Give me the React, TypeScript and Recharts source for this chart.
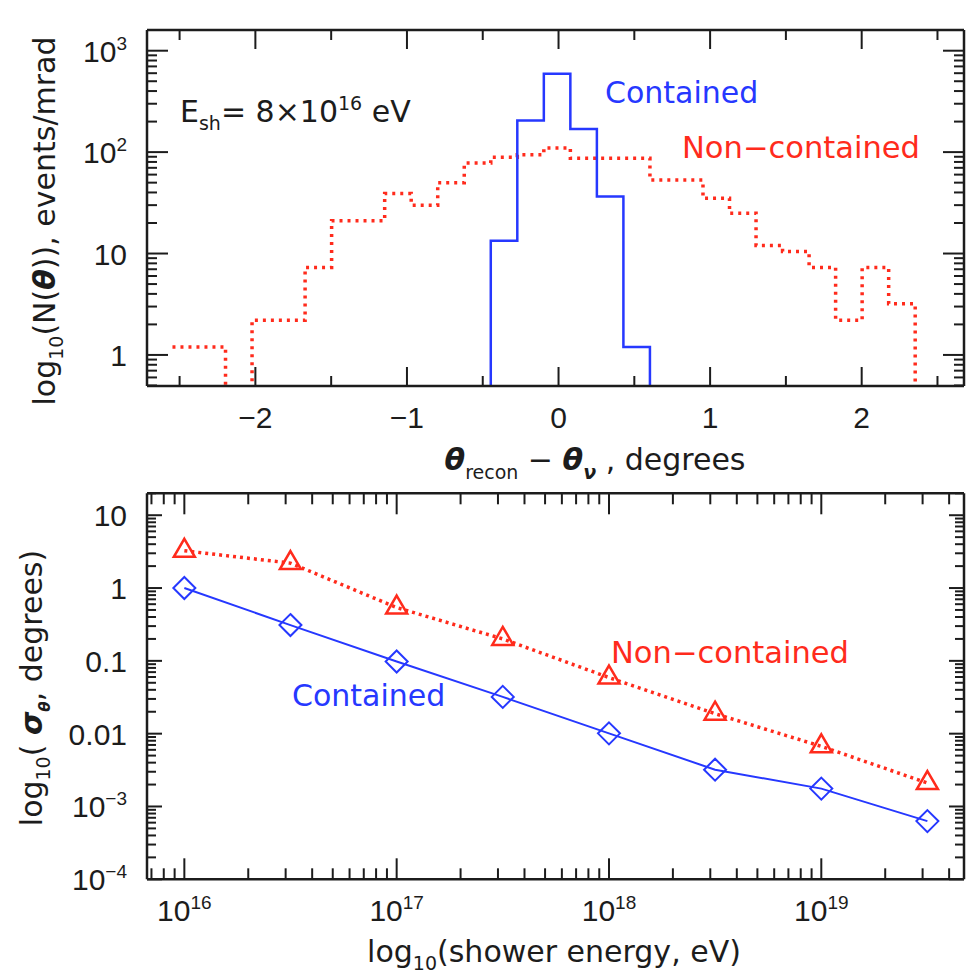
import React from 'react';
import { LineChart, Line, XAxis, YAxis } from 'recharts';

// top panel: angular error histograms, bin edges in degrees, counts in events/mrad
const binEdges = [
  -2.547, -2.372, -2.197, -2.022, -1.847, -1.672, -1.497, -1.322, -1.147, -0.972,
  -0.797, -0.622, -0.447, -0.272, -0.097, 0.078, 0.253, 0.428, 0.603, 0.778,
  0.953, 1.128, 1.303, 1.478, 1.653, 1.828, 2.003, 2.178, 2.353,
];
const nonContainedCounts = [
  1.2, 1.2, 0, 2.2, 2.2, 7.3, 21, 21, 39, 30, 50, 78, 89, 94,
  110, 87, 87, 87, 53, 53, 35, 25, 12, 10.5, 7.3, 2.2, 7.3, 3.2,
];
const containedCounts = [
  0, 0, 0, 0, 0, 0, 0, 0, 0, 0, 0, 0, 13.4, 205,
  594, 169, 36.5, 1.2, 0, 0, 0, 0, 0, 0, 0, 0, 0, 0,
];

// bottom panel: angular resolution vs shower energy
const energies = [1e16, 3.16e16, 1e17, 3.16e17, 1e18, 3.16e18, 1e19, 3.16e19];
const sigmaContained = [1.0, 0.31, 0.098, 0.032, 0.0101, 0.0032, 0.00176, 0.00063];
const sigmaNonContained = [3.25, 2.2, 0.54, 0.2, 0.059, 0.0188, 0.0067, 0.0021];

// ticks
const thetaTicks = [-2.5, -2, -1.5, -1, -0.5, 0, 0.5, 1, 1.5, 2, 2.5];
const thetaMajors = [-2, -1, 0, 1, 2];
const thetaLabels = [['−2', ''], ['−1', ''], ['0', ''], ['1', ''], ['2', '']];
const countMajors = [1, 10, 100, 1000];
const countLabels = [['1', ''], ['10', ''], ['10', '2'], ['10', '3']];
const sigmaMajors = [1e-4, 1e-3, 0.01, 0.1, 1, 10];
const sigmaLabels = [['10', '−4'], ['10', '−3'], ['0.01', ''], ['0.1', ''], ['1', ''], ['10', '']];
const energyMajors = [1e16, 1e17, 1e18, 1e19];
const energyLabels = [['10', '16'], ['10', '17'], ['10', '18'], ['10', '19']];

const THETA_DOMAIN: [number, number] = [-2.715, 2.675];
const COUNT_DOMAIN: [number, number] = [0.494, 1600];
const SIGMA_DOMAIN: [number, number] = [1e-4, 20];
const ENERGY_DOMAIN: [number, number] = [6.67e15, 4.7e19];

const BLUE = '#2638ff';
const RED = '#ff2b1c';
const INK = '#1c1c1c';
const EMPTY = 0.1; // empty bins fall below the axis floor

function outline(counts: number[]) {
  const pts = counts.map((c, i) => ({ x: binEdges[i], y: c > 0 ? c : EMPTY }));
  pts.push({ x: binEdges[counts.length], y: EMPTY });
  return pts;
}

function logTicks(lo: number, hi: number) {
  const out: number[] = [];
  for (let d = Math.floor(Math.log10(lo)); d <= Math.ceil(Math.log10(hi)); d++) {
    for (let m = 1; m <= 9; m++) {
      const v = m * Math.pow(10, d);
      if (v >= lo * 0.9999 && v <= hi * 1.0001) out.push(v);
    }
  }
  return out;
}

const near = (a: number, b: number) => Math.abs(a - b) <= 1e-9 * Math.max(1, Math.abs(b));

type Side = 'left' | 'right' | 'top' | 'bottom';

function makeTick(side: Side, majors: number[], labels: string[][] | null, major: number, minor: number) {
  return (props: any) => {
    const { x, y, payload } = props;
    const idx = majors.findIndex((m) => near(payload.value, m));
    const len = idx >= 0 ? major : minor;
    let x2 = x;
    let y2 = y;
    if (side === 'left') x2 = x + len;
    else if (side === 'right') x2 = x - len;
    else if (side === 'top') y2 = y + len;
    else y2 = y - len;
    const lab = idx >= 0 && labels ? labels[idx] : null;
    let text = null;
    if (lab) {
      const sup = lab[1] ? <tspan dy={-12} fontSize={19}>{lab[1]}</tspan> : null;
      text = side === 'left'
        ? <text x={x - 20} y={y + 11} textAnchor="end" fontSize={30} fontFamily="Liberation Sans" fill={INK}>{lab[0]}{sup}</text>
        : <text x={x} y={y + 42} textAnchor="middle" fontSize={30} fontFamily="Liberation Sans" fill={INK}>{lab[0]}{sup}</text>;
    }
    return (
      <g>
        <line x1={x} y1={y} x2={x2} y2={y2} stroke={INK} strokeWidth={2} />
        {text}
      </g>
    );
  };
}

const frame = { stroke: INK, strokeWidth: 2.5 };

function Diamond(props: any) {
  const { cx, cy } = props;
  if (cx == null || cy == null) return null;
  return <path key={`d${cx}`} d={`M${cx},${cy - 11}L${cx + 11},${cy}L${cx},${cy + 11}L${cx - 11},${cy}Z`} fill="none" stroke={BLUE} strokeWidth={2} />;
}

function Triangle(props: any) {
  const { cx, cy } = props;
  if (cx == null || cy == null) return null;
  return <path key={`t${cx}`} d={`M${cx},${cy - 12}L${cx + 10.5},${cy + 6}L${cx - 10.5},${cy + 6}Z`} fill="none" stroke={RED} strokeWidth={2.5} />;
}

function HistogramPanel() {
  const yTicks = logTicks(COUNT_DOMAIN[0], COUNT_DOMAIN[1]);
  const axisCommon = { tickLine: false, tickSize: 0, tickMargin: 0, interval: 0 as const, axisLine: frame, allowDataOverflow: true };
  return (
    <LineChart width={975} height={490} margin={{ top: 0, right: 0, bottom: 0, left: 0 }}>
      <XAxis xAxisId="b" orientation="bottom" height={104} dataKey="x" type="number" domain={THETA_DOMAIN}
        ticks={thetaTicks} tick={makeTick('bottom', thetaMajors, thetaLabels, 19, 10)} {...axisCommon} />
      <XAxis xAxisId="t" orientation="top" height={30} dataKey="x" type="number" domain={THETA_DOMAIN}
        ticks={thetaTicks} tick={makeTick('top', thetaMajors, null, 19, 10)} {...axisCommon} />
      <YAxis yAxisId="l" orientation="left" width={147} type="number" scale="log" domain={COUNT_DOMAIN}
        ticks={yTicks} tick={makeTick('left', countMajors, countLabels, 21, 10)} {...axisCommon} />
      <YAxis yAxisId="r" orientation="right" width={11} type="number" scale="log" domain={COUNT_DOMAIN}
        ticks={yTicks} tick={makeTick('right', countMajors, null, 21, 10)} {...axisCommon} />
      <Line xAxisId="b" yAxisId="l" data={outline(nonContainedCounts)} dataKey="y" type="stepAfter"
        stroke={RED} strokeWidth={3.5} strokeDasharray="3 5" dot={false} isAnimationActive={false} />
      <Line xAxisId="b" yAxisId="l" data={outline(containedCounts)} dataKey="y" type="stepAfter"
        stroke={BLUE} strokeWidth={2.5} dot={false} isAnimationActive={false} />
    </LineChart>
  );
}

function ResolutionPanel() {
  const yTicks = logTicks(SIGMA_DOMAIN[0], SIGMA_DOMAIN[1]);
  const xTicks = logTicks(ENERGY_DOMAIN[0], ENERGY_DOMAIN[1]);
  const contained = energies.map((e, i) => ({ x: e, y: sigmaContained[i] }));
  const nonContained = energies.map((e, i) => ({ x: e, y: sigmaNonContained[i] }));
  const axisCommon = { tickLine: false, tickSize: 0, tickMargin: 0, interval: 0 as const, axisLine: frame, allowDataOverflow: true };
  return (
    <LineChart width={975} height={483} margin={{ top: 0, right: 0, bottom: 0, left: 0 }}>
      <XAxis xAxisId="b" orientation="bottom" height={93.7} dataKey="x" type="number" scale="log" domain={ENERGY_DOMAIN}
        ticks={xTicks} tick={makeTick('bottom', energyMajors, energyLabels, 21, 11)} {...axisCommon} />
      <XAxis xAxisId="t" orientation="top" height={3.3} dataKey="x" type="number" scale="log" domain={ENERGY_DOMAIN}
        ticks={xTicks} tick={makeTick('top', energyMajors, null, 21, 11)} {...axisCommon} />
      <YAxis yAxisId="l" orientation="left" width={147} type="number" scale="log" domain={SIGMA_DOMAIN}
        ticks={yTicks} tick={makeTick('left', sigmaMajors, sigmaLabels, 15, 9)} {...axisCommon} />
      <YAxis yAxisId="r" orientation="right" width={11} type="number" scale="log" domain={SIGMA_DOMAIN}
        ticks={yTicks} tick={makeTick('right', sigmaMajors, null, 15, 9)} {...axisCommon} />
      <Line xAxisId="b" yAxisId="l" data={nonContained} dataKey="y" type="linear"
        stroke={RED} strokeWidth={3.5} strokeDasharray="3 4" dot={<Triangle />} isAnimationActive={false} />
      <Line xAxisId="b" yAxisId="l" data={contained} dataKey="y" type="linear"
        stroke={BLUE} strokeWidth={2} dot={<Diamond />} isAnimationActive={false} />
    </LineChart>
  );
}

const TXT = { fontFamily: 'DejaVu Sans', fontSize: 30, fill: INK };

export default function App() {
  return (
    <div style={{ position: 'fixed', left: 0, top: 0, width: 975, height: 973, background: '#fff' }}>
      <div style={{ position: 'absolute', left: 0, top: 0 }}>
        <HistogramPanel />
      </div>
      <div style={{ position: 'absolute', left: 0, top: 490 }}>
        <ResolutionPanel />
      </div>
      <svg width={975} height={973} style={{ position: 'absolute', left: 0, top: 0, pointerEvents: 'none' }}>
        {/* top panel annotations */}
        <text x={180} y={122} {...TXT}>
          E<tspan dy={8} fontSize={19}>sh</tspan><tspan dy={-8}>=  8×10</tspan><tspan dy={-12} fontSize={19}>16</tspan><tspan dy={12}> eV</tspan>
        </text>
        <text x={605} y={103} {...TXT} fill={BLUE}>Contained</text>
        <text x={682} y={158} {...TXT} fill={RED} textLength={238} lengthAdjust="spacingAndGlyphs">Non−contained</text>
        <text transform="translate(55,221) rotate(-90)" textAnchor="middle" {...TXT}>
          log<tspan dy={8} fontSize={19}>10</tspan><tspan dy={-8}>(N(</tspan><tspan fontStyle="italic" fontWeight="bold">θ</tspan>)),  events/mrad
        </text>
        <text x={595} y={470} textAnchor="middle" {...TXT}>
          <tspan fontStyle="italic" fontWeight="bold">θ</tspan><tspan dy={9} fontSize={19}>recon</tspan><tspan dy={-9}>  −  </tspan>
          <tspan fontStyle="italic" fontWeight="bold">θ</tspan><tspan dy={9} fontSize={19} fontStyle="italic" fontWeight="bold">ν</tspan><tspan dy={-9}> ,  degrees</tspan>
        </text>
        {/* bottom panel annotations */}
        <text x={611} y={663} {...TXT} fill={RED} textLength={238} lengthAdjust="spacingAndGlyphs">Non−contained</text>
        <text x={292} y={706} {...TXT} fill={BLUE}>Contained</text>
        <text transform="translate(42,688) rotate(-90)" textAnchor="middle" {...TXT}>
          log<tspan dy={8} fontSize={19}>10</tspan><tspan dy={-8}>(  </tspan><tspan fontStyle="italic" fontWeight="bold">σ</tspan><tspan dy={8} fontSize={15} fontStyle="italic" fontWeight="bold">θ</tspan><tspan dy={-8}>,  degrees)</tspan>
        </text>
        <text x={554} y={962} textAnchor="middle" {...TXT}>
          log<tspan dy={8} fontSize={19}>10</tspan><tspan dy={-8}>(shower energy, eV)</tspan>
        </text>
      </svg>
    </div>
  );
}
